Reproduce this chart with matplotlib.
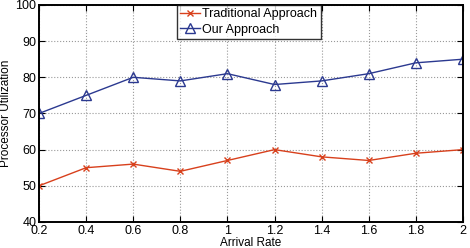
import matplotlib.pyplot as plt

plt.rcParams['font.family'] = ['Liberation Sans', 'DejaVu Sans']

arrival_rate = [0.2, 0.4, 0.6, 0.8, 1.0, 1.2, 1.4, 1.6, 1.8, 2.0]
traditional = [50, 55, 56, 54, 57, 60, 58, 57, 59, 60]
ours = [70, 75, 80, 79, 81, 78, 79, 81, 84, 85]
x_ticks = [0.2, 0.4, 0.6, 0.8, 1, 1.2, 1.4, 1.6, 1.8, 2]
x_tick_labels = ['0.2', '0.4', '0.6', '0.8', '1', '1.2', '1.4', '1.6', '1.8', '2']

fig = plt.figure(figsize=(4.7, 2.48), dpi=100)
ax = fig.add_axes([0.083, 0.105, 0.902, 0.875])

ax.plot(arrival_rate, traditional, color='#d8401c', linewidth=1.0, marker='x',
        markersize=5, markeredgewidth=1.0, label='Traditional Approach')
ax.plot(arrival_rate, ours, color='#2b3990', linewidth=1.0, marker='^',
        markersize=7, markerfacecolor='none', markeredgewidth=1.0, label='Our Approach')

ax.set_xlim(0.2, 2)
ax.set_ylim(40, 100)
ax.set_xticks(x_ticks)
ax.set_xticklabels(x_tick_labels)
ax.set_yticks(range(40, 101, 10))
ax.tick_params(direction='in', labelsize=9, length=4, width=0.8, pad=2,
               top=True, right=True)
ax.grid(True, linestyle=':', color='#999999', linewidth=0.8)
for s in ax.spines.values():
    s.set_linewidth(1.4)

ax.set_xlabel('Arrival Rate', fontsize=8.5, labelpad=0)
ax.set_ylabel('Processor Utilization', fontsize=8.5, labelpad=2)

leg = ax.legend(loc='upper left', bbox_to_anchor=(0.325, 1.0), fontsize=9,
                frameon=True, fancybox=False, edgecolor='black',
                handlelength=1.6, handletextpad=0.2, borderpad=0.25,
                labelspacing=0.3, borderaxespad=0)
leg.get_frame().set_linewidth(1.0)

plt.savefig('out.png', dpi=100)
